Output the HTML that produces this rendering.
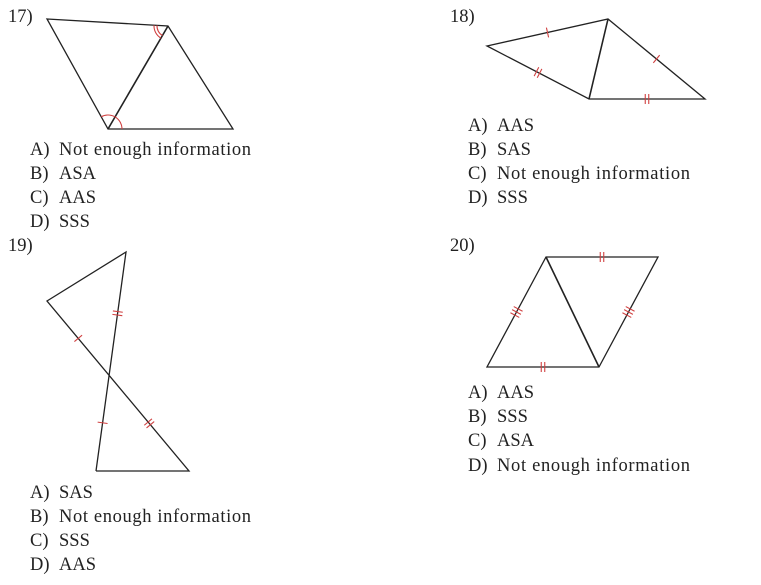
<!DOCTYPE html>
<html><head><meta charset="utf-8"><style>
html,body{margin:0;padding:0;background:#fff;}
svg{display:block;}
text{font-family:"Liberation Serif",serif;font-size:18.5px;fill:#222;}
</style></head><body>
<svg id="s" width="761" height="585" viewBox="0 0 761 585" xmlns="http://www.w3.org/2000/svg">
<g stroke="#222" stroke-width="1.3" fill="none">
<polygon points="47,19 168,26 233,129 108,129"/>
<line x1="168" y1="26" x2="108" y2="129" stroke-width="1.6"/>
<polygon points="487,46 608,19 705,99 589,99"/>
<line x1="608" y1="19" x2="589" y2="99" stroke-width="1.6"/>
<polyline points="96,471 126,252 47,301 189,471 96,471"/>
<polygon points="546,257 658,257 599,367 487,367"/>
<line x1="546" y1="257" x2="599" y2="367" stroke-width="1.6"/>
</g>
<g id="red" stroke="#d04040" stroke-width="1.1" fill="none"></g>
<text x="8" y="22">17)</text>
<text x="30" y="155">A)</text><text x="59" y="155" textLength="192">Not enough information</text>
<text x="30" y="179">B)</text><text x="59" y="179">ASA</text>
<text x="30" y="203">C)</text><text x="59" y="203">AAS</text>
<text x="30" y="227">D)</text><text x="59" y="227">SSS</text>
<text x="450" y="22">18)</text>
<text x="468" y="131">A)</text><text x="497" y="131">AAS</text>
<text x="468" y="155">B)</text><text x="497" y="155">SAS</text>
<text x="468" y="179">C)</text><text x="497" y="179" textLength="193">Not enough information</text>
<text x="468" y="203">D)</text><text x="497" y="203">SSS</text>
<text x="8" y="251">19)</text>
<text x="30" y="498">A)</text><text x="59" y="498">SAS</text>
<text x="30" y="522">B)</text><text x="59" y="522" textLength="192">Not enough information</text>
<text x="30" y="546">C)</text><text x="59" y="546">SSS</text>
<text x="30" y="570">D)</text><text x="59" y="570">AAS</text>
<text x="450" y="251">20)</text>
<text x="468" y="398">A)</text><text x="497" y="398">AAS</text>
<text x="468" y="422">B)</text><text x="497" y="422">SSS</text>
<text x="468" y="446">C)</text><text x="497" y="446">ASA</text>
<text x="468" y="471">D)</text><text x="497" y="471" textLength="193">Not enough information</text>
</svg>
<script>
var g=document.getElementById('red'),NS='http://www.w3.org/2000/svg';
function ln(x1,y1,x2,y2){var l=document.createElementNS(NS,'line');l.setAttribute('x1',x1);l.setAttribute('y1',y1);l.setAttribute('x2',x2);l.setAttribute('y2',y2);g.appendChild(l);}
function tick(ax,ay,bx,by,t,n){var dx=bx-ax,dy=by-ay,L=Math.hypot(dx,dy);var ux=dx/L,uy=dy/L,px=-uy,py=ux;var cx=ax+dx*t,cy=ay+dy*t;for(var i=0;i<n;i++){var o=(i-(n-1)/2)*3.5;var mx=cx+ux*o,my=cy+uy*o;ln(mx-px*5,my-py*5,mx+px*5,my+py*5);}}
function arc(cx,cy,px,py,qx,qy,r){var a1=Math.atan2(py-cy,px-cx),a2=Math.atan2(qy-cy,qx-cx);var d=a2-a1;while(d>Math.PI)d-=2*Math.PI;while(d<-Math.PI)d+=2*Math.PI;var p=document.createElementNS(NS,'path');var sx=cx+r*Math.cos(a1),sy=cy+r*Math.sin(a1),ex=cx+r*Math.cos(a1+d),ey=cy+r*Math.sin(a1+d);p.setAttribute('d','M'+sx+','+sy+' A'+r+','+r+' 0 0 '+(d>0?1:0)+' '+ex+','+ey);g.appendChild(p);}
arc(168,26,47,19,108,129,11);arc(168,26,47,19,108,129,14);
arc(108,129,47,19,233,129,14);
tick(487,46,608,19,.5,1);tick(487,46,589,99,.5,2);tick(608,19,705,99,.5,1);tick(589,99,705,99,.5,2);
tick(47,301,189,471,.22,1);tick(47,301,189,471,.72,2);tick(126,252,96,471,.28,2);tick(126,252,96,471,.78,1);
tick(546,257,658,257,.5,2);tick(487,367,599,367,.5,2);tick(546,257,487,367,.5,3);tick(658,257,599,367,.5,3);
</script>
</body></html>
